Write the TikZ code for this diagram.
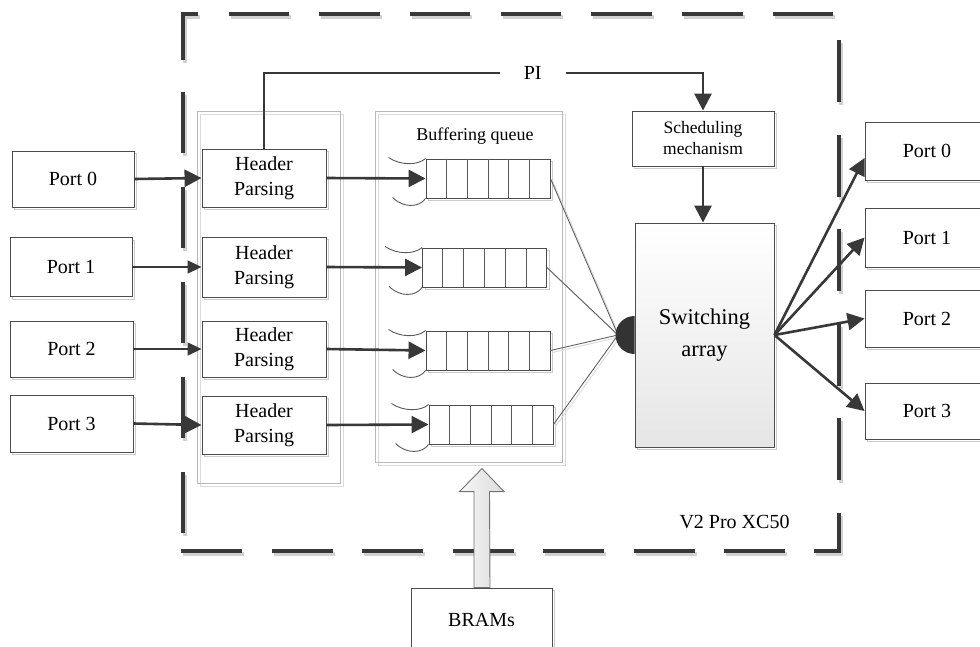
\documentclass[tikz,border=0pt]{standalone}
\usepackage{fontspec}
\setmainfont{Liberation Serif}
\usetikzlibrary{arrows.meta,calc,shadows}

\begin{document}
\begin{tikzpicture}[x=1pt,y=-1pt,
  every node/.style={text=black},
  framebox/.style={draw=black!70, line width=0.9pt, fill=white, inner sep=0pt, align=center,
    general shadow={fill=white, draw=black!20, line width=0.9pt, shadow xshift=2.5pt, shadow yshift=-2.5pt}},
  portbox/.style={framebox, font=\fontsize{20pt}{25pt}\selectfont},
  hdrbox/.style={framebox, minimum width=124pt, font=\fontsize{20pt}{25pt}\selectfont},
  queuebox/.style={framebox, minimum width=124pt, minimum height=39pt},
  groupbox/.style={draw=black!28, line width=0.8pt},
  groupshade/.style={draw=black!14, line width=0.8pt},
  bigarrow/.style={draw=black!78, line width=2.6pt, -{Triangle[length=17pt,width=17pt]}},
  smallarrow/.style={draw=black!78, line width=1.3pt, -{Triangle[length=14pt,width=13pt]}},
  feed/.style={draw=black!62, line width=0.9pt},
  feedshade/.style={draw=black!15, line width=0.9pt},
  wing/.style={draw=black!65, line width=0.9pt},
]
\useasboundingbox (0,0) rectangle (980,646);

% dashed chip outline, with its light offset copy underneath
\foreach \c/\dx/\dy in {black!18/2/3, black!78/0/0} {
  \begin{scope}[shift={(\dx,\dy)}, color=\c, line width=4pt, line join=miter]
    \draw (182.5,60) -- (182.5,14) -- (198,14);
    \foreach \a in {228.5,319.2,409.9,500.6,591.3,682,772.7} \draw (\a,14) -- ++(60.5,0);
    \foreach \a in {92,187,282,377,472} \draw (182.5,\a) -- ++(0,61);
    \foreach \a in {181,271.5,362,452.5,543,633.5,724} \draw (\a,551) -- ++(61,0);
    \draw (814,551) -- (838.5,551) -- (838.5,513);
    \foreach \a in {40,134.5,229,323.5,418} \draw (838.5,\a) -- ++(0,62);
  \end{scope}
}

% group frames
\draw[groupshade] (200,114) rectangle (343,486);
\draw[groupbox] (197,111) rectangle (340,483);
\draw[groupshade] (378,114) rectangle (565,465);
\draw[groupbox] (375,111) rectangle (562,462);

% input ports
\node[portbox, minimum width=122pt, minimum height=56pt] (lp0) at (73,179) {Port 0};
\node[portbox, minimum width=122pt, minimum height=59pt] (lp1) at (71,267) {Port 1};
\node[portbox, minimum width=123pt, minimum height=56pt] (lp2) at (71.5,349) {Port 2};
\node[portbox, minimum width=123pt, minimum height=57pt] (lp3) at (71.5,423.5) {Port 3};

% header parsers
\node[hdrbox, minimum height=58pt] (hp0) at (264,178) {Header\\Parsing};
\node[hdrbox, minimum height=60pt] (hp1) at (264,267) {Header\\Parsing};
\node[hdrbox, minimum height=56pt] (hp2) at (264,349) {Header\\Parsing};
\node[hdrbox, minimum height=58pt] (hp3) at (264,425) {Header\\Parsing};

% buffering queues
\node[font=\fontsize{18pt}{20pt}\selectfont] (bqt) at (475,136) {Buffering queue};
\node[queuebox] (q0) at (488,178.5) {};
\node[queuebox] (q1) at (484.5,267.5) {};
\node[queuebox] (q2) at (488,350.5) {};
\node[queuebox] (q3) at (491,424.5) {};
\foreach \q in {q0,q1,q2,q3} {
  \foreach \i in {1,...,5}
    \draw[black!65, line width=0.8pt] ($(\q.north west)!\i/6!(\q.north east)$) -- ($(\q.south west)!\i/6!(\q.south east)$);
  \draw[wing] ($(\q.north west)+(-37,-1)$) .. controls +(12,8) and +(-8,7) .. (\q.north west);
  \draw[wing] ($(\q.south west)+(-33,-1)$) .. controls +(11,11) and +(-6,9) .. (\q.south west);
}

% scheduler and switch
\node[framebox, minimum width=142pt, minimum height=55pt, font=\fontsize{17.5pt}{21pt}\selectfont] (sched) at (703,138.5) {Scheduling\\mechanism};
\node[framebox, top color=white, bottom color=black!10, minimum width=139pt, minimum height=224pt,
      font=\fontsize{22.5pt}{32pt}\selectfont] (sw) at (704.5,335) {Switching\\array};

% output ports
\node[portbox, minimum width=124pt, minimum height=58pt] (rp0) at (927,151) {Port 0};
\node[portbox, minimum width=124pt, minimum height=59pt] (rp1) at (927,237.5) {Port 1};
\node[portbox, minimum width=124pt, minimum height=57pt] (rp2) at (927,318.5) {Port 2};
\node[portbox, minimum width=124pt, minimum height=56pt] (rp3) at (927,411) {Port 3};

% block RAM source
\node[framebox, minimum width=141pt, minimum height=64pt, font=\fontsize{20pt}{24pt}\selectfont] (brams) at (481.5,620) {BRAMs};
\path[draw=black!55, line width=0.9pt, left color=black!3, right color=black!14]
  ($(brams.north)+(-7.5,0)$) -- ++(0,-96) -- ++(-14.5,0) -- ($(brams.north)+(0.5,-119)$)
  -- ($(brams.north)+(22.5,-96)$) -- ++(-14.5,0) -- ($(brams.north)+(8.5,0)$) -- cycle;

\node[font=\fontsize{20pt}{24pt}\selectfont] (chip) at (734.5,522) {V2 Pro XC50};

% port -> parser
\draw[bigarrow] (lp0.east) -- (hp0.west);
\draw[smallarrow] (lp1.east) -- (hp1.west);
\draw[smallarrow] (lp2.east) -- (hp2.west);
\draw[bigarrow] (lp3.east) -- (hp3.west);

% parser -> queue
\draw[bigarrow] (hp0.east) -- (q0.west);
\draw[bigarrow] (hp1.east) -- (q1.west);
\draw[bigarrow] (hp2.east) -- (q2.west);
\draw[bigarrow] (hp3.east) -- (q3.west);

% queues converge on the switch input
\coordinate (cv) at (618,335);
\foreach \q in {q0,q1,q2,q3} {
  \draw[feedshade] ([shift={(2,2)}]\q.east) -- ([shift={(2,2)}]cv);
  \draw[feed] (\q.east) -- (cv);
}
\fill[black!80] ($(sw.west)+(0,-19pt)$) arc[start angle=270, end angle=90, radius=19pt] -- cycle;

% control path
\coordinate (pitop) at (703,73);
\draw[bigarrow] (hp0.north) |- node[pos=0.806, fill=white, inner xsep=24pt, inner ysep=3pt,
  font=\fontsize{20pt}{24pt}\selectfont] (pi) {PI} (pitop) -- (sched.north);
\draw[bigarrow] (sched.south) -- (sched.south |- sw.north);

% switch -> output ports
\draw[bigarrow] (sw.east) -- ($(rp0.west)+(0,7)$);
\draw[bigarrow] (sw.east) -- (rp1.west);
\draw[bigarrow] (sw.east) -- (rp2.west);
\draw[bigarrow] (sw.east) -- (rp3.west);
\end{tikzpicture}
\end{document}
